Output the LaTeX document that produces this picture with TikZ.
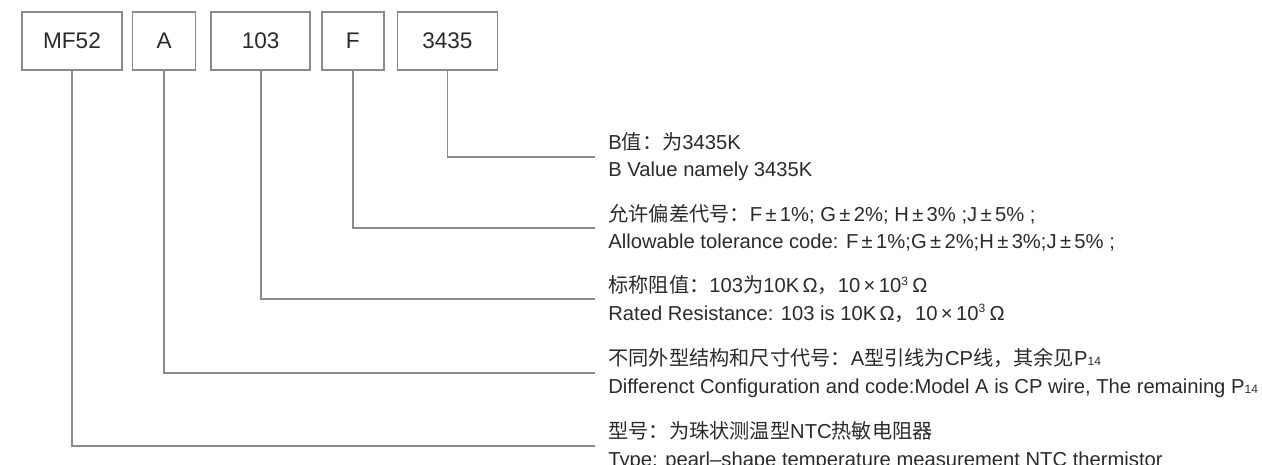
\documentclass[tikz,border=0pt]{standalone}
\usepackage{fontspec}
\setmainfont{Liberation Sans}
\newfontfamily\cjk{Noto Sans CJK SC}
\usetikzlibrary{positioning}
\definecolor{ink}{HTML}{2B2B2B}
\definecolor{rule}{HTML}{8A8A8A}
\newcommand{\zh}[1]{{\cjk #1}}
\newcommand{\sml}[1]{{\fontsize{6pt}{6pt}\selectfont #1}}
\tikzset{
  part/.style={rectangle, draw=rule, line width=0.8pt, fill=white, text=ink,
               font=\fontsize{11.3pt}{13pt}\selectfont, minimum height=29pt,
               inner sep=0pt},
  note/.style={anchor=west, align=left, text=ink, inner xsep=6.5pt, inner ysep=0pt,
               font=\fontsize{10.1pt}{13.6pt}\selectfont},
  lead/.style={draw=rule, line width=0.8pt}
}

\begin{document}
\begin{tikzpicture}[x=0.5pt, y=-0.5pt, node distance=5pt]
  \useasboundingbox (0,0) rectangle (1262,465);
  % code boxes
  \node[part, minimum width=50pt] (mf) at (72,41) {MF52};
  \node[part, minimum width=31.5pt, right=4.5pt of mf] (sh) {A};
  \node[part, minimum width=49.5pt, right=7pt of sh] (res) {103};
  \node[part, minimum width=31pt, right=5pt of res] (tol) {F};
  \node[part, minimum width=50pt, right=6pt of tol] (bv) {3435};
  % explanations
  \node[note] (nbv) at (595,157) {B\zh{值：为}3435K\\B Value namely 3435K};
  \node[note] (ntol) at (595,228) {\zh{允许偏差代号：}F\,±\,1\%; G\,±\,2\%; H\,±\,3\% ;J\,±\,5\% ;\\
    Allowable tolerance code: F\,±\,1\%;G\,±\,2\%;H\,±\,3\%;J\,±\,5\% ;};
  \node[note] (nres) at (595,299) {\zh{标称阻值：}103\zh{为}10K\,Ω\zh{，}10\,×\,10\textsuperscript{\sml{3}}\,Ω\\
    Rated Resistance: 103 is 10K\,Ω\zh{，}10\,×\,10\textsuperscript{\sml{3}}\,Ω};
  \node[note] (nsh) at (595,373) {\zh{不同外型结构和尺寸代号：}A\zh{型引线为}CP\zh{线，其余见}P\sml{14}\\
    Differenct Configuration and code:Model A is CP wire, The remaining P\sml{14}};
  \node[note] (nmf) at (595,446) {\zh{型号：为珠状测温型}NTC\zh{热敏电阻器}\\
    Type: pearl–shape temperature measurement NTC thermistor};
  % leaders
  \foreach \a/\b in {bv/nbv,tol/ntol,res/nres,sh/nsh,mf/nmf}
    \draw[lead] (\a.south) |- (\b.west);
\end{tikzpicture}
\end{document}
